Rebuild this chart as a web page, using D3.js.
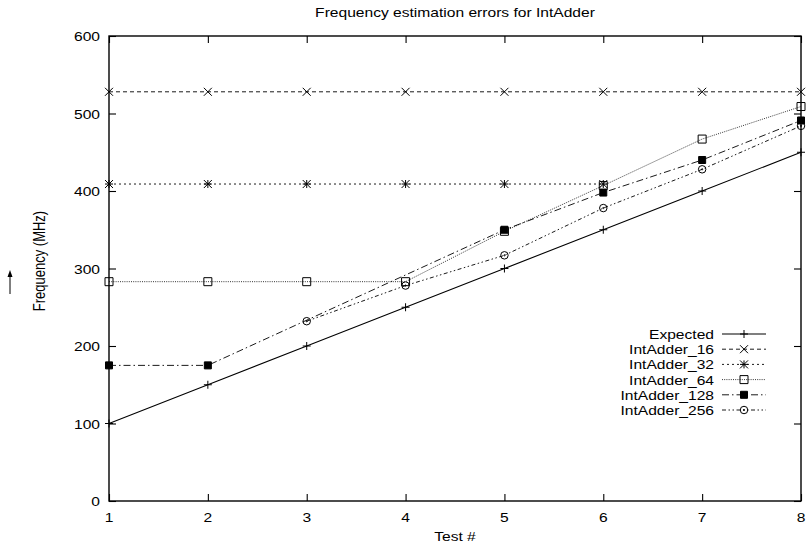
<!DOCTYPE html>
<html>
<head>
<script src="https://d3js.org/d3.v7.min.js"></script>
<style>
  body { margin: 0; background: #fff; }
  text { font-family: 'Liberation Sans', Arial, sans-serif; fill: #000; }
</style>
</head>
<body>
<div id="chart"></div>
<script>
const tests = [1, 2, 3, 4, 5, 6, 7, 8];
const expected    = [100, 150, 200, 250, 300, 350, 400, 450];
const intAdder16  = [528, 528, 528, 528, 528, 528, 528, 528];
const intAdder32  = [409, 409, 409, 409, 409, 409, null, null];
const intAdder64  = [283, 283, 283, 283, 348, 407, 467, 509];
const intAdder128 = [175, 175, null, null, 350, 398, 440, 491];
const intAdder256 = [null, null, 232, 278, 317, 378, 428, 484];
const yTicks = [0, 100, 200, 300, 400, 500, 600];

const series = [
  { name: "Expected",     values: expected,    dash: null,           mark: "plus",   width: 1.1 },
  { name: "IntAdder_16",  values: intAdder16,  dash: "4,3",          mark: "cross",  width: 0.9 },
  { name: "IntAdder_32",  values: intAdder32,  dash: "2,3",          mark: "star",   width: 0.9 },
  { name: "IntAdder_64",  values: intAdder64,  dash: "1,1.2",        mark: "box",    width: 0.8 },
  { name: "IntAdder_128", values: intAdder128, dash: "7,3,1.5,3",    mark: "fbox",   width: 0.9 },
  { name: "IntAdder_256", values: intAdder256, dash: "4,2.5,1.5,2.5,1.5,2.5", mark: "circle", width: 0.9 }
];

const W = 808, H = 546;
const m = { left: 109, right: 7, top: 36, bottom: 45 };
const SX = 1.2; // the original text is stretched sideways

const svg = d3.select("#chart").append("svg")
  .attr("width", W).attr("height", H);

const x = d3.scaleLinear().domain([1, 8]).range([m.left, W - m.right]);
const y = d3.scaleLinear().domain([0, 600]).range([H - m.bottom, m.top]);

// stretched text helper
function label(parent, str, px, py, anchor, rot) {
  const t = parent.append("text")
    .attr("text-anchor", anchor)
    .style("font-size", "13px")
    .text(str);
  if (rot) t.attr("transform", `translate(${px},${py}) rotate(-90) scale(1,${SX})`);
  else t.attr("transform", `translate(${px},${py}) scale(${SX},1)`);
  return t;
}

// ticks (inward, gnuplot style) on all four sides
const g = svg.append("g");
g.append("g")
  .attr("transform", `translate(0,${y(0)})`)
  .call(d3.axisBottom(x).tickValues(tests).tickSize(-7).tickFormat(""))
  .call(a => a.select(".domain").remove());
g.append("g")
  .attr("transform", `translate(0,${y(600)})`)
  .call(d3.axisTop(x).tickValues(tests).tickSize(-7).tickFormat(""))
  .call(a => a.select(".domain").remove());
g.append("g")
  .attr("transform", `translate(${x(1)},0)`)
  .call(d3.axisLeft(y).tickValues(yTicks).tickSize(-7).tickFormat(""))
  .call(a => a.select(".domain").remove());
g.append("g")
  .attr("transform", `translate(${x(8)},0)`)
  .call(d3.axisRight(y).tickValues(yTicks).tickSize(-7).tickFormat(""))
  .call(a => a.select(".domain").remove());
g.selectAll(".tick line").attr("stroke", "#000").attr("stroke-width", 1.1);

// tick labels, placed with the scales
tests.forEach(t => label(svg, String(t), x(t), y(0) + 21, "middle"));
yTicks.forEach(v => label(svg, String(v), x(1) - 9, y(v) + 5, "end"));

// border
svg.append("rect")
  .attr("x", x(1)).attr("y", y(600))
  .attr("width", x(8) - x(1)).attr("height", y(0) - y(600))
  .attr("fill", "none").attr("stroke", "#000").attr("stroke-width", 1.4);

// marker shapes
function markPath(type, s) {
  const h = s / 2;
  switch (type) {
    case "plus":  return `M${-h},0H${h}M0,${-h}V${h}`;
    case "cross": return `M${-h},${-h}L${h},${h}M${-h},${h}L${h},${-h}`;
    case "star":  return `M${-h},0H${h}M0,${-h}V${h}M${-h},${-h}L${h},${h}M${-h},${h}L${h},${-h}`;
    case "box":
    case "fbox":  return `M${-h},${-h}H${h}V${h}H${-h}Z`;
    case "circle": return `M${h},0A${h},${h} 0 1,1 ${-h},0A${h},${h} 0 1,1 ${h},0Z M0.6,0A0.6,0.6 0 1,1 -0.6,0A0.6,0.6 0 1,1 0.6,0Z`;
  }
}
function drawMark(sel, type, px, py) {
  const s = type === "circle" ? 7.5 : (type === "fbox" ? 7 : 8);
  sel.append("path")
    .attr("d", markPath(type, s))
    .attr("transform", `translate(${px},${py})`)
    .attr("fill", type === "fbox" ? "#000" : "none")
    .attr("stroke", "#000")
    .attr("stroke-width", 1);
}

const line = d3.line()
  .defined(d => d[1] != null)
  .x(d => x(d[0]))
  .y(d => y(d[1]));

const plot = svg.append("g");
series.forEach(s => {
  const pts = tests.map((t, i) => [t, s.values[i]]).filter(d => d[1] != null);
  plot.append("path")
    .datum(pts)
    .attr("d", line)
    .attr("fill", "none")
    .attr("stroke", "#000")
    .attr("stroke-width", s.width)
    .attr("stroke-dasharray", s.dash);
  pts.forEach(d => drawMark(plot, s.mark, x(d[0]), y(d[1])));
});

// legend
const leg = svg.append("g");
series.forEach((s, i) => {
  const ly = 334 + i * 15.2;
  label(leg, s.name, 714, ly + 5, "end");
  leg.append("line")
    .attr("x1", 722).attr("x2", 766).attr("y1", ly).attr("y2", ly)
    .attr("stroke", "#000").attr("stroke-width", s.width)
    .attr("stroke-dasharray", s.dash);
  drawMark(leg, s.mark, 744, ly);
});

// titles
label(svg, "Frequency estimation errors for IntAdder", 455, 17, "middle");
label(svg, "Test #", 455, 541, "middle");
label(svg, "Frequency (MHz)", 45, 261, "middle", true);

// the little up arrow left of the y title
svg.append("line")
  .attr("x1", 10).attr("x2", 10).attr("y1", 294).attr("y2", 274)
  .attr("stroke", "#000").attr("stroke-width", 1);
svg.append("path")
  .attr("d", "M10,270L7.5,277L12.5,277Z")
  .attr("fill", "#000");
</script>
</body>
</html>
